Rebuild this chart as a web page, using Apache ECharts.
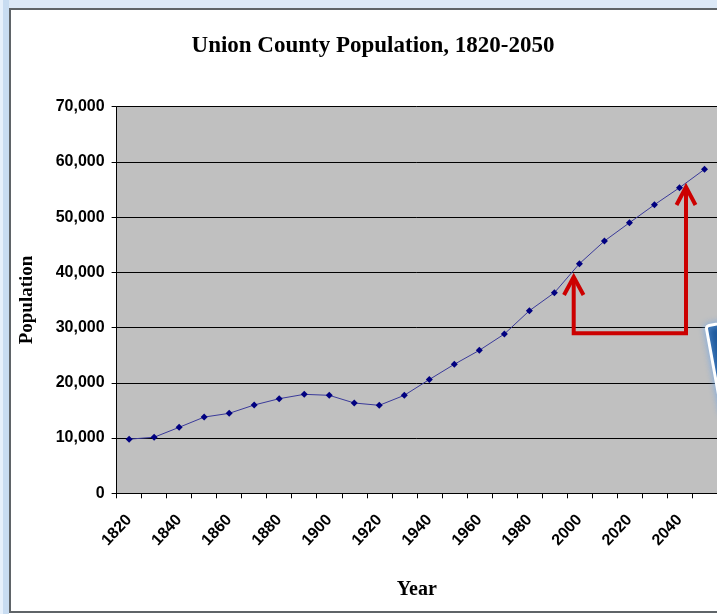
<!DOCTYPE html>
<html>
<head>
<meta charset="utf-8">
<script src="https://cdn.jsdelivr.net/npm/echarts@6/dist/echarts.min.js"></script>
<style>
html,body{margin:0;padding:0;background:#fff;}
#c{width:717px;height:614px;}
</style>
</head>
<body>
<div id="c"></div>
<script>
const years = ['1820','1830','1840','1850','1860','1870','1880','1890','1900','1910','1920','1930',
               '1940','1950','1960','1970','1980','1990','2000','2010','2020','2030','2040','2050'];
const population = [9800,10150,11950,13800,14480,15990,17130,17920,17740,16350,15930,17740,
                    20600,23360,25890,28840,33060,36320,41570,45680,48990,52250,55330,58660];
const yTicks = [0,10000,20000,30000,40000,50000,60000,70000];

const chart = echarts.init(document.getElementById('c'), null, {renderer:'canvas'});
chart.setOption({
  animation:false,
  backgroundColor:'#fff',
  title:{
    text:'Union County Population, 1820-2050',
    left:368, top:30, textAlign:'center',
    textStyle:{fontFamily:'Liberation Serif', fontWeight:'bold', fontSize:23, color:'#000'}
  },
  grid:{left:116.6, top:106.7, right:-1.6, bottom:120.7, show:true, backgroundColor:'#c0c0c0', borderWidth:0},
  xAxis:{
    type:'category', data:years, boundaryGap:true,
    name:'Year', nameLocation:'middle', nameGap:87,
    nameTextStyle:{fontFamily:'Liberation Serif', fontWeight:'bold', fontSize:20, color:'#000'},
    axisLine:{lineStyle:{color:'#000', width:1}},
    axisTick:{show:true, interval:0, length:5, lineStyle:{color:'#000'}},
    axisLabel:{interval:1, rotate:47, margin:24, fontFamily:'Liberation Sans', fontWeight:'bold', fontSize:16, color:'#000'},
    splitLine:{show:false}
  },
  yAxis:{
    type:'value', min:0, max:70000, interval:10000,
    name:'Population', nameLocation:'middle', nameGap:80,
    nameTextStyle:{fontFamily:'Liberation Serif', fontWeight:'bold', fontSize:19, color:'#000'},
    axisLine:{show:true, lineStyle:{color:'#000', width:1}},
    axisTick:{show:true, length:5, lineStyle:{color:'#000'}},
    axisLabel:{margin:12, fontFamily:'Liberation Sans', fontWeight:'bold', fontSize:16, color:'#000',
      formatter:v => yTicks.includes(v) ? v.toLocaleString('en-US') : ''},
    splitLine:{show:true, lineStyle:{color:'#000', width:1}}
  },
  series:[{
    type:'line', data:population,
    symbol:'diamond', symbolSize:7,
    lineStyle:{color:'#3a3a9a', width:1},
    itemStyle:{color:'#000080'}
  }],
  graphic:[
    {type:'rect', shape:{x:0,y:0,width:717,height:8}, style:{fill:'#dce9f7'}, z:100},
    {type:'rect', shape:{x:0,y:0,width:9,height:614}, style:{fill:'#c8dcf1'}, z:100},
    {type:'rect', shape:{x:0,y:0,width:3,height:614}, style:{fill:'#e6f0fb'}, z:101},
    {type:'rect', shape:{x:10,y:9,width:720,height:603}, style:{fill:null, stroke:'#5f6468', lineWidth:2}, z:102},
    {type:'polyline', shape:{points:[[573.7,278],[573.7,333.3],[686,333.3],[686,189]]},
      style:{stroke:'#cc0000', lineWidth:4, fill:null, lineJoin:'miter'}, z:110},
    {type:'polyline', shape:{points:[[564,295],[573.7,277],[583.5,295]]},
      style:{stroke:'#cc0000', lineWidth:4, fill:null}, z:110},
    {type:'polyline', shape:{points:[[676.5,205],[686,187],[695.5,205]]},
      style:{stroke:'#cc0000', lineWidth:4, fill:null}, z:110},
    {type:'rect', x:706, y:326, rotation:0.18, originX:0, originY:0,
      shape:{x:0,y:0,width:120,height:90, r:3},
      style:{fill:'#1f5b9e', stroke:'#ffffff', lineWidth:3, shadowBlur:6, shadowColor:'rgba(120,170,230,0.9)'}, z:110}
  ]
});
</script>
</body>
</html>
